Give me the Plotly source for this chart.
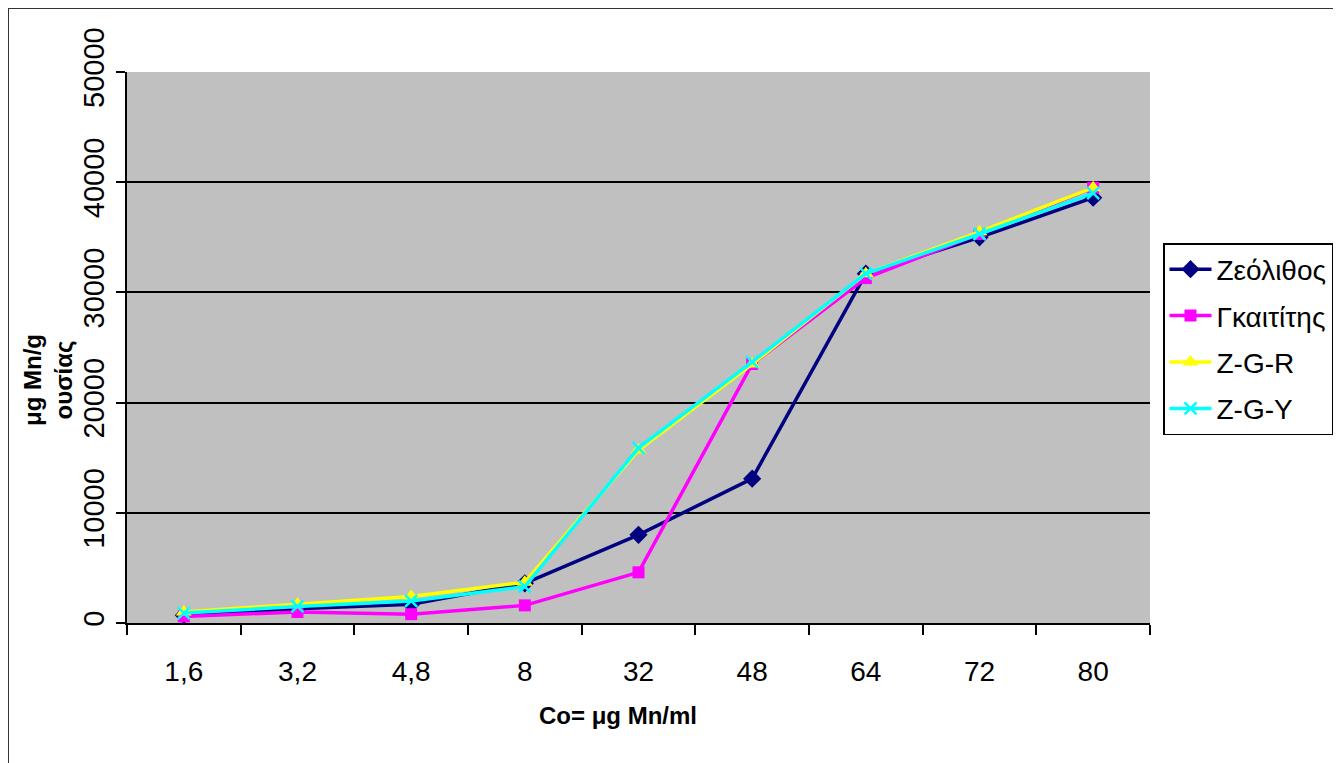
import plotly.graph_objects as go

categories = ["1,6", "3,2", "4,8", "8", "32", "48", "64", "72", "80"]
zeolithos = [700, 1300, 1700, 3600, 8000, 13100, 31700, 35000, 38600]
gkaititis = [600, 1000, 800, 1600, 4600, 23500, 31300, 35300, 39500]
zgr = [1000, 1700, 2400, 3700, 15700, 23500, 31700, 35500, 39500]
zgy = [900, 1500, 2000, 3300, 15900, 23700, 31700, 35300, 39000]
y_ticks = [0, 10000, 20000, 30000, 40000, 50000]

FONT = "Arial, Liberation Sans, sans-serif"

fig = go.Figure()
series = [
    ("Ζεόλιθος", zeolithos, "#000080", dict(symbol="diamond", size=14, color="#000080")),
    ("Γκαιτίτης", gkaititis, "#FF00FF", dict(symbol="square", size=12, color="#FF00FF")),
    ("Z-G-R", zgr, "#FFFF00", dict(symbol="triangle-up", size=14, color="#FFFF00")),
    ("Z-G-Y", zgy, "#00FFFF", dict(symbol="x-thin-open", size=12, color="#00FFFF",
                                   line=dict(color="#00FFFF", width=2.5))),
]
for i, (name, vals, col, mk) in enumerate(series):
    fig.add_trace(go.Scatter(
        x=categories, y=vals, name=name, mode="lines+markers",
        line=dict(color=col, width=3.5), marker=mk, legendgroup=f"g{i}",
    ))

# page body has an 8px margin; work in screen pixels and shift
OFF = 8
W, H = 1341 - OFF, 763 - OFF
L, T = 127 - OFF, 72 - OFF
R = W - (1150 - OFF)
B = H - (623 - OFF)
pw, ph = W - L - R, H - T - B

def px_x(x):
    return (x - OFF - L) / pw

def px_y(y):
    return (H - B - (y - OFF)) / ph

fig.update_layout(
    width=W, height=H,
    margin=dict(l=L, r=R, t=T, b=B, autoexpand=False),
    paper_bgcolor="white",
    plot_bgcolor="#C0C0C0",
    font=dict(family=FONT, color="black"),
    showlegend=True,
    legend=dict(
        x=px_x(1163), y=px_y(243), xanchor="left", yanchor="top",
        bordercolor="black", borderwidth=1.5, bgcolor="white",
        font=dict(size=28, family=FONT), tracegroupgap=7,
        itemwidth=42,
    ),
    xaxis=dict(
        type="category", showline=True, linecolor="black", linewidth=2,
        ticks="outside", ticklen=10, tickwidth=2, tickcolor="black",
        tickson="boundaries", showgrid=False,
        tickfont=dict(size=28, family=FONT), ticklabelstandoff=22,
        range=[-0.5, 8.5],
    ),
    yaxis=dict(
        range=[0, 50000], tickvals=y_ticks, ticktext=[str(v) for v in y_ticks],
        showline=True, linecolor="black", linewidth=2,
        ticks="outside", ticklen=9, tickwidth=2, tickcolor="black",
        showgrid=True, gridcolor="black", gridwidth=2, zeroline=False,
        tickangle=-90, tickfont=dict(size=29, family=FONT),
    ),
    annotations=[
        dict(text="<b>Co= μg Mn/ml</b>", xref="paper", yref="paper",
             x=px_x(618), y=px_y(715), showarrow=False,
             font=dict(size=24, family=FONT), xanchor="center", yanchor="middle"),
        dict(text="<b>μg Mn/g<br>ουσίας</b>", xref="paper", yref="paper",
             x=px_x(48), y=px_y(380), showarrow=False, textangle=-90,
             font=dict(size=24, family=FONT), xanchor="center", yanchor="middle"),
    ],
    shapes=[
        dict(type="rect", xref="paper", yref="paper",
             x0=px_x(8), x1=px_x(1337), y0=px_y(790), y1=px_y(8),
             line=dict(color="#333333", width=2), fillcolor="rgba(0,0,0,0)", layer="below"),
    ],
)

fig.write_html("out.html")
